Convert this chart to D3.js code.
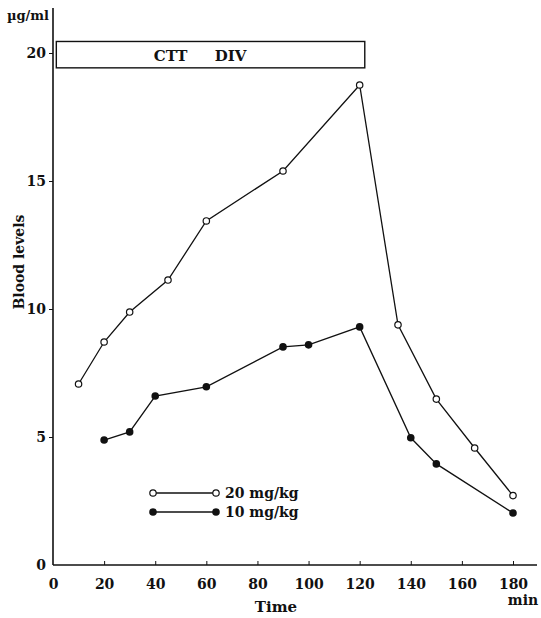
<!DOCTYPE html>
<html>
<head>
<meta charset="utf-8">
<script src="https://cdn.jsdelivr.net/npm/d3@7"></script>
<style>
body { margin: 0; background: #fff; }
text { font-family: "DejaVu Serif", "Liberation Serif", serif; fill: #111; }
</style>
</head>
<body>
<div class="chart"></div>
<script>
// time points (min) and blood levels (µg/ml)
var time20 = [10, 20, 30, 45, 60, 90, 120, 135, 150, 165, 180];
var level20 = [7.07, 8.71, 9.88, 11.13, 13.44, 15.39, 18.75, 9.38, 6.48, 4.57, 2.71];
var time10 = [20, 30, 40, 60, 90, 100, 120, 140, 150, 180];
var level10 = [4.88, 5.2, 6.6, 6.96, 8.52, 8.6, 9.3, 4.97, 3.95, 2.03];
var xTicks = [0, 20, 40, 60, 80, 100, 120, 140, 160, 180];
var yTicks = [0, 5, 10, 15, 20];
var seriesNames = ['20 mg/kg', '10 mg/kg'];
var boxLabels = ['CTT', 'DIV'];

var width = 541, height = 618;
var font = '"DejaVu Serif", serif';

var svg = d3.select('.chart')
    .append('svg')
    .attr('width', width)
    .attr('height', height)

var xScale = d3.scaleLinear().domain([0, 180]).range([53, 513])
var yScale = d3.scaleLinear().domain([0, 20]).range([565, 53])

// axes lines
svg.append('line')
    .attr('x1', xScale(0)).attr('x2', 537)
    .attr('y1', yScale(0)).attr('y2', yScale(0))
    .style('stroke', '#111').style('stroke-width', 1.6)
svg.append('line')
    .attr('x1', xScale(0)).attr('x2', xScale(0))
    .attr('y1', 8).attr('y2', yScale(0))
    .style('stroke', '#111').style('stroke-width', 1.6)

// y ticks
var yAxis = d3.axisLeft(yScale).tickValues(yTicks).tickSize(4).tickPadding(3)
var gy = svg.append('g')
    .attr('transform', 'translate(' + xScale(0) + ',0)')
    .call(yAxis)
gy.select('.domain').remove()
gy.selectAll('text')
    .style('font-size', '14px').style('font-weight', 'bold')
    .style('font-family', font)
gy.selectAll('line').style('stroke', '#111')
gy.selectAll('.tick').filter(d => d === 0).select('line').remove()

// x ticks point inward
var xAxis = d3.axisBottom(xScale).tickValues(xTicks).tickSizeInner(-4).tickSizeOuter(0).tickPadding(14)
var gx = svg.append('g')
    .attr('transform', 'translate(0,' + yScale(0) + ')')
    .call(xAxis)
gx.select('.domain').remove()
gx.selectAll('line').style('stroke', '#111')
gx.selectAll('.tick').filter(d => d === 0).select('line').remove()
gx.selectAll('text')
    .style('font-size', '14px').style('font-weight', 'bold')
    .style('font-family', font)

// axis titles
svg.append('text').attr('x', 7).attr('y', 20)
    .style('font-size', '13px').style('font-weight', 'bold').text('µg/ml')
svg.append('text')
    .attr('transform', 'translate(24,262) rotate(-90)')
    .attr('text-anchor', 'middle')
    .style('font-size', '14px').style('font-weight', 'bold').text('Blood levels')
svg.append('text').attr('x', 276).attr('y', 612).attr('text-anchor', 'middle')
    .style('font-size', '15px').style('font-weight', 'bold').text('Time')
svg.append('text').attr('x', 523).attr('y', 605).attr('text-anchor', 'middle')
    .style('font-size', '14px').style('font-weight', 'bold').text('min')

// infusion box
svg.append('rect')
    .attr('x', xScale(1.3)).attr('y', yScale(20.45))
    .attr('width', xScale(122) - xScale(1.3))
    .attr('height', yScale(19.42) - yScale(20.45))
    .style('fill', 'none').style('stroke', '#111').style('stroke-width', 1.4)
svg.selectAll('.boxlabel')
    .data(boxLabels)
    .enter()
    .append('text')
    .attr('x', (d, i) => xScale(46 + i * 23.5))
    .attr('y', yScale(19.7))
    .attr('text-anchor', 'middle')
    .style('font-size', '15px').style('font-weight', 'bold')
    .text(d => d)

var line = d3.line().x(d => xScale(d[0])).y(d => yScale(d[1]))
var data20 = time20.map((t, i) => [t, level20[i]])
var data10 = time10.map((t, i) => [t, level10[i]])

svg.append('path').datum(data20).attr('d', line)
    .style('fill', 'none').style('stroke', '#111').style('stroke-width', 1.3)
svg.append('path').datum(data10).attr('d', line)
    .style('fill', 'none').style('stroke', '#111').style('stroke-width', 1.3)

svg.selectAll('.open')
    .data(data20)
    .enter()
    .append('circle')
    .attr('cx', d => xScale(d[0])).attr('cy', d => yScale(d[1]))
    .attr('r', 3.2)
    .style('fill', '#fff').style('stroke', '#111').style('stroke-width', 1.2)
svg.selectAll('.filled')
    .data(data10)
    .enter()
    .append('circle')
    .attr('cx', d => xScale(d[0])).attr('cy', d => yScale(d[1]))
    .attr('r', 3.8)
    .style('fill', '#111')

// legend
var legend = svg.append('g')
seriesNames.forEach(function (name, i) {
    var y = 493 + i * 19
    legend.append('line')
        .attr('x1', 153).attr('x2', 216).attr('y1', y).attr('y2', y)
        .style('stroke', '#111').style('stroke-width', 1.3)
    ;[153, 216].forEach(function (x) {
        legend.append('circle').attr('cx', x).attr('cy', y)
            .attr('r', i === 0 ? 3.2 : 3.8)
            .style('fill', i === 0 ? '#fff' : '#111')
            .style('stroke', '#111').style('stroke-width', i === 0 ? 1.2 : 0)
    })
    legend.append('text').attr('x', 225).attr('y', y + 5)
        .style('font-size', '14px').style('font-weight', 'bold').text(name)
})
</script>
</body>
</html>
